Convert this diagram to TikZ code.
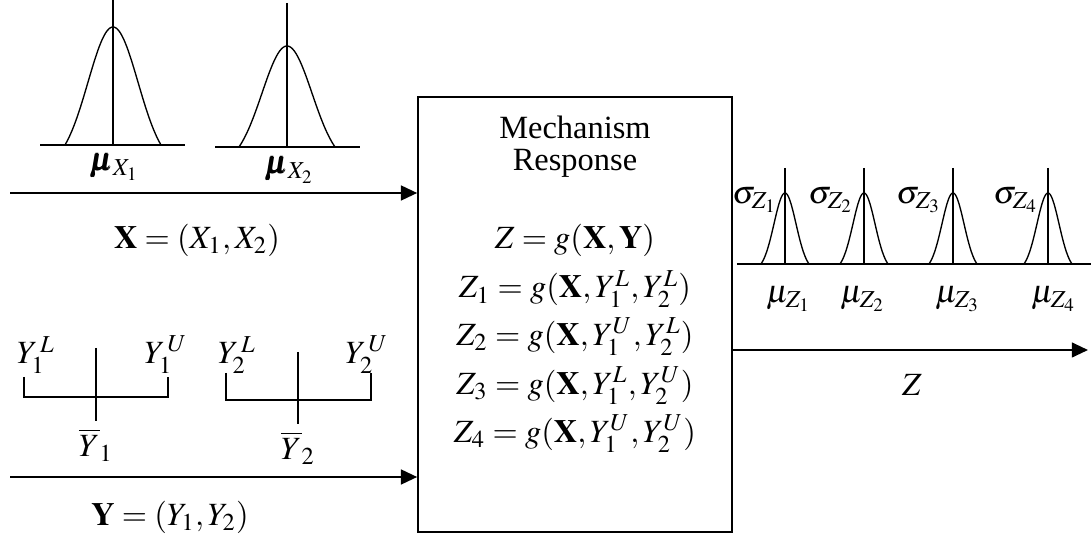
\documentclass[tikz,border=0pt]{standalone}
\usepackage{amsmath,amssymb}
\usepackage{mathptmx}
\usepackage[no-math]{fontspec}
\setmainfont{Liberation Serif}
\usepackage{tikz}
\usetikzlibrary{arrows.meta, positioning, calc}
\tikzset{
  respbox/.style={draw, line width=0.8pt, minimum width=116pt,
                  minimum height=161pt, inner sep=0pt},
  lbl/.style={font=\fontsize{12}{14}\selectfont, inner sep=0pt},
  flow/.style={-{Triangle[length=6pt, width=5.5pt]}, line width=0.75pt},
  axis/.style={line width=0.65pt},
  bracket/.style={line width=0.5pt},
  bell/.style={line width=0.5pt, smooth, samples=60},
}
\begin{document}
\begin{tikzpicture}[x=0.37pt, y=-0.37pt]
  \useasboundingbox (0,0) rectangle (1091,539);

  % response box
  \node[respbox] (resp) at (575,314.5) {};
  \node[lbl] (mech) at (575,127) {Mechanism};
  \node[lbl] (respl) at (575,163) {Response};
  \node[lbl] (zg) at (575,240) {$Z = g(\mathbf{X},\mathbf{Y})$};
  \node[lbl] (z1) at (575,289) {$Z_1 = g(\mathbf{X},Y_1^L,Y_2^L)$};
  \node[lbl] (z2) at (575,337) {$Z_2 = g(\mathbf{X},Y_1^U,Y_2^L)$};
  \node[lbl] (z3) at (575,386) {$Z_3 = g(\mathbf{X},Y_1^L,Y_2^U)$};
  \node[lbl] (z4) at (575,434) {$Z_4 = g(\mathbf{X},Y_1^U,Y_2^U)$};

  % input X: two normal densities
  \draw[axis] (40,145) -- (185,145);
  \draw[bracket] (113,0) -- (113,145);
  \draw[bell] plot[domain=-48:48]
    ({113+\x},{145-118*(exp(-(\x/25)^2/2)-0.158)/0.842});
  \draw[axis] (215,147) -- (360,147);
  \draw[bracket] (287,3) -- (287,147);
  \draw[bell] plot[domain=-48:48]
    ({287+\x},{147-101*(exp(-(\x/25)^2/2)-0.158)/0.842});
  \node[lbl] (mux1) at (115,167) {$\pmb{\mu}_{X_1}$};
  \node[lbl] (mux2) at (290,170) {$\pmb{\mu}_{X_2}$};
  \coordinate (xin) at (10,193);
  \draw[flow] (xin) -- (xin -| resp.west);
  \node[lbl] (xvec) at (197,240) {$\mathbf{X} = \left(X_1, X_2\right)$};

  % input Y: two intervals
  \draw[bracket] (24,377) -- (24,397) -- (168,397) -- (168,377);
  \draw[bracket] (96,348) -- (96,421);
  \draw[bracket] (226,373) -- (226,400) -- (371,400) -- (371,373);
  \draw[bracket] (298,352) -- (298,424);
  \node[lbl] (y1l) at (36,355) {$Y_1^{\,L}$};
  \node[lbl] (y1u) at (166,355) {$Y_1^{\,U}$};
  \node[lbl] (y2l) at (237,355) {$Y_2^{\,L}$};
  \node[lbl] (y2u) at (367,355) {$Y_2^{\,U}$};
  \node[lbl] (y1m) at (96,445) {$\overline{Y}_1$};
  \node[lbl] (y2m) at (298,448) {$\overline{Y}_2$};
  \coordinate (yin) at (10,477);
  \draw[flow] (yin) -- (yin -| resp.west);
  \node[lbl] (yvec) at (170,517) {$\mathbf{Y} = \left(Y_1, Y_2\right)$};

  % output Z: four narrow densities
  \draw[axis] ([xshift=1.5pt]resp.east |- 0,264) -- (1091,264);
  \foreach \c/\i in {785/1, 864/2, 953/3, 1048/4} {
    \draw[bracket] (\c,168) -- (\c,264);
    \draw[bell] plot[domain=-24:24]
      ({\c+\x},{264-71*(exp(-(\x/11)^2/2)-0.092)/0.908});
  }
  \node[lbl] (sz1) at (755,200) {$\sigma_{Z_1}$};
  \node[lbl] (sz2) at (831,200) {$\sigma_{Z_2}$};
  \node[lbl] (sz3) at (919,200) {$\sigma_{Z_3}$};
  \node[lbl] (sz4) at (1016,200) {$\sigma_{Z_4}$};
  \node[lbl] (mz1) at (789,299) {$\mu_{Z_1}$};
  \node[lbl] (mz2) at (863,299) {$\mu_{Z_2}$};
  \node[lbl] (mz3) at (958,299) {$\mu_{Z_3}$};
  \node[lbl] (mz4) at (1054,299) {$\mu_{Z_4}$};
  \coordinate (zout) at (1088,350);
  \draw[flow] (resp.east |- zout) -- (zout);
  \node[lbl] (zl) at (912,385) {$Z$};
\end{tikzpicture}
\end{document}
